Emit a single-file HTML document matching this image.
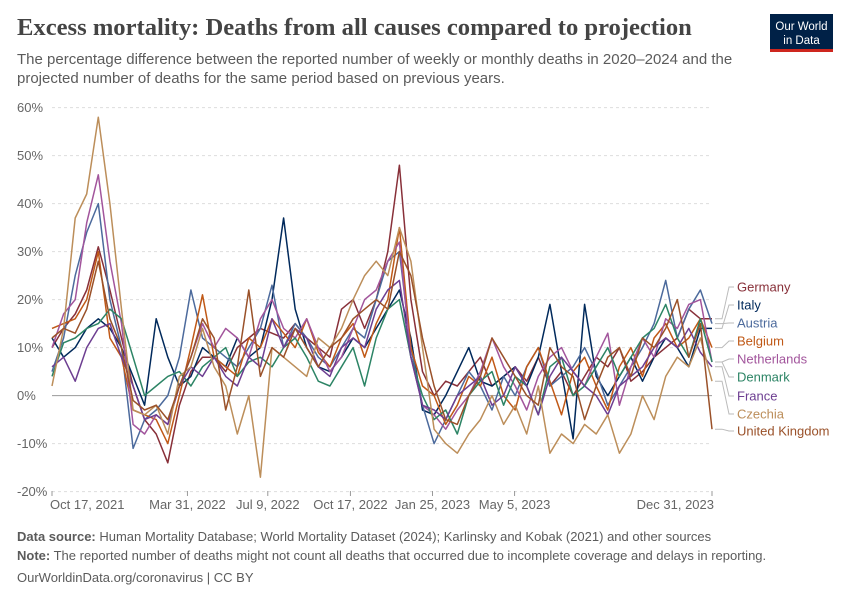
<!DOCTYPE html>
<html><head><meta charset="utf-8"><style>
body{margin:0;background:#fff;width:850px;height:600px;overflow:hidden;font-family:"Liberation Sans",sans-serif}
</style></head><body>
<svg width="850" height="600" xmlns="http://www.w3.org/2000/svg">
<text x="17" y="35" font-family="Liberation Serif,serif" font-size="24.6" font-weight="bold" fill="#444">Excess mortality: Deaths from all causes compared to projection</text>
<text x="17" y="64" font-size="15" fill="#5b5b5b">The percentage difference between the reported number of weekly or monthly deaths in 2020–2024 and the</text>
<text x="17" y="83" font-size="15" fill="#5b5b5b">projected number of deaths for the same period based on previous years.</text>
<g><rect x="770" y="14" width="63" height="36" fill="#002147"/><rect x="770" y="49" width="63" height="3" fill="#ce261e"/>
<text x="801.5" y="30" text-anchor="middle" font-size="11.5" fill="#fff">Our World</text><text x="801.5" y="44" text-anchor="middle" font-size="11.5" fill="#fff">in Data</text></g>
<g id="grid"></g><g id="lines"></g><g id="legend"></g>
<text x="17" y="541" font-size="13" fill="#5b5b5b"><tspan font-weight="bold">Data source:</tspan> Human Mortality Database; World Mortality Dataset (2024); Karlinsky and Kobak (2021) and other sources</text>
<text x="17" y="560" font-size="13" fill="#5b5b5b"><tspan font-weight="bold">Note:</tspan> The reported number of deaths might not count all deaths that occurred due to incomplete coverage and delays in reporting.</text>
<text x="17" y="582" font-size="13" fill="#5b5b5b">OurWorldinData.org/coronavirus | CC BY</text>
</svg>
<script>
const yTicks=[-20,-10,0,10,20,30,40,50,60];
const xLabels=["Oct 17, 2021","Mar 31, 2022","Jul 9, 2022","Oct 17, 2022","Jan 25, 2023","May 5, 2023","Dec 31, 2023"];
const xLabelWeeks=[0,23.6,37.6,52,66.3,80.6,115];
const countries=["Germany","Italy","Austria","Belgium","Netherlands","Denmark","France","Czechia","United Kingdom"];
const colors=["#883039","#00295b","#4c6a9c","#c05917","#a2559c","#2c8465","#6d3e91","#bc8e5a","#9a5129"];
const labelYs=[287,305,323,341,359,377,396,414,431];
const germany=[10,14,17,22,31,22,12,2,-5,-8,-14,-2,5,8,8,5,10,12,14,13,12,15,12,10,8,18,20,14,20,30,48,20,5,0,3,2,5,8,2,4,6,3,8,2,5,0,4,8,6,10,3,5,8,10,12,18,16,16];
const italy=[12,8,10,14,16,14,10,4,-2,16,8,2,4,10,8,6,12,8,10,20,37,18,10,6,5,8,12,10,14,18,22,12,-3,-4,0,5,10,3,2,4,6,2,8,19,5,-9,19,4,0,4,8,3,8,12,10,6,14,14];
const austria=[5,12,25,34,40,20,10,-11,-5,-3,0,8,22,12,10,8,6,10,14,23,10,15,12,8,6,10,14,12,20,28,30,10,-2,-10,-5,0,5,2,-3,4,0,6,10,2,4,6,10,5,-2,2,6,10,15,24,12,18,22,15];
const belgium=[14,15,16,20,30,12,8,-3,-4,-5,-10,0,10,21,8,6,4,12,10,16,13,10,16,9,6,12,15,8,15,20,35,10,2,0,-6,-2,4,2,8,0,-3,6,10,3,-4,5,8,2,-3,6,10,4,12,15,10,12,16,10];
const netherlands=[10,17,20,36,46,28,15,-6,-8,-4,-6,2,8,15,10,14,12,8,16,20,14,12,16,10,5,8,14,20,22,28,32,8,-2,-4,-7,-3,0,5,12,6,2,-3,4,8,10,5,2,8,13,-2,6,12,8,16,14,19,20,7];
const denmark=[4,11,12,14,15,18,16,8,0,2,4,5,2,6,8,10,4,7,8,6,10,12,8,3,2,6,10,2,12,18,20,8,0,-5,-3,-8,0,3,5,-2,4,2,-4,6,8,0,2,6,10,4,8,12,14,19,12,8,16,7];
const france=[6,8,3,10,14,15,8,2,-5,-4,-6,2,6,4,8,4,2,8,6,16,10,14,12,6,4,10,12,10,18,22,24,8,-2,-3,-5,0,2,4,-2,0,6,2,-4,4,8,5,2,0,-4,2,4,6,10,12,10,14,9,6];
const czechia=[2,14,37,42,58,40,18,-3,-4,-2,-8,4,6,14,6,2,-8,0,-17,10,8,6,4,12,10,14,20,25,28,25,35,28,10,-7,-10,-12,-8,-5,0,-6,-2,-8,2,-12,-8,-10,-6,-8,-4,-12,-8,0,-5,4,8,6,12,3];
const uk=[12,14,13,18,28,16,10,-1,-3,-2,-5,2,8,16,12,-3,6,22,4,10,8,14,10,6,10,12,16,18,20,18,30,25,12,2,-5,-6,0,4,12,8,4,0,-2,10,6,4,-5,2,8,10,4,12,10,14,20,8,15,-7];
const series=[germany,italy,austria,belgium,netherlands,denmark,france,czechia,uk];
const NS="http://www.w3.org/2000/svg";
const X0=52,X1=712,Y0=395.6,PX=4.8,WEEKS=115;
const y=v=>Y0-v*PX;
const xw=w=>X0+(X1-X0)*w/WEEKS;
function mk(t,a,p){const e=document.createElementNS(NS,t);for(const k in a)e.setAttribute(k,a[k]);p.appendChild(e);return e;}
const grid=document.getElementById('grid');
yTicks.forEach(t=>{
 const l=mk('line',{x1:52,x2:712,y1:y(t),y2:y(t),stroke:t===0?'#999':'#ddd','stroke-dasharray':t===0?'':'3,3'},grid);
 
 
 const tx=mk('text',{x:17,y:y(t)+4.5,'font-size':13,fill:'#666'},grid);tx.textContent=t+'%';
 
 
});
xLabels.forEach((s,i)=>{
 const x=xw(xLabelWeeks[i]);
 const anchor=i===0?'start':(i===xLabels.length-1?'end':'middle');
 const tk=mk('line',{x1:x,x2:x,y1:491,y2:496,stroke:'#999'},grid);
 
 
 const tx=mk('text',{x:i===0?x-2:x+(i===xLabels.length-1?2:0),y:509,'font-size':13,fill:'#666','text-anchor':anchor},grid);tx.textContent=s;
 
 
});
const lines=document.getElementById('lines'),leg=document.getElementById('legend');
series.forEach((d,si)=>{
 const pts=d.map((v,i)=>xw(i*WEEKS/(d.length-1)).toFixed(1)+','+y(v).toFixed(1)).join(' ');
 const p=mk('polyline',{points:pts,fill:'none',stroke:colors[si],'stroke-width':1.5,'stroke-linejoin':'round'},lines);
 
 
 const ey=y(d[d.length-1]),ly=labelYs[si];
 const c=mk('polyline',{points:`715,${ey} 722,${ey} 729,${ly} 734,${ly}`,fill:'none',stroke:'#bbb','stroke-width':1},leg);
 
 
 const t=mk('text',{x:737,y:ly+4.5,'font-size':13,fill:colors[si]},leg);t.textContent=countries[si];
 
 
});
</script>
</body></html>
